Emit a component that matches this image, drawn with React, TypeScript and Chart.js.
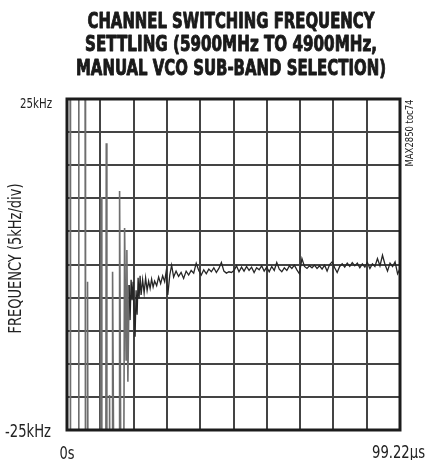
import { useEffect, useRef } from 'react';
import { Chart, registerables } from 'chart.js';

Chart.register(...registerables);

// ---------- text ----------
const titleLines = [
  'CHANNEL SWITCHING FREQUENCY',
  'SETTLING (5900MHz TO 4900MHz,',
  'MANUAL VCO SUB-BAND SELECTION)',
];
const yAxisTitle = 'FREQUENCY (5kHz/div)';
const noteLabel = 'MAX2850 toc74';

// ---------- axes ----------
const xTickValues = [0, 9.922, 19.844, 29.766, 39.688, 49.61, 59.532, 69.454, 79.376, 89.298, 99.22];
const xTickLabels = ['0s', '', '', '', '', '', '', '', '', '', '99.22µs'];
const yTickValues = [-25, -20, -15, -10, -5, 0, 5, 10, 15, 20, 25];
const yTickLabels = ['-25kHz', '', '', '', '', '', '', '', '', '', '25kHz'];

// ---------- data (time in µs, frequency error in kHz) ----------
const transientTimes = [
  0, 0.9, 1.04, 3.37, 3.52, 5.37, 5.52, 5.97, 6.12, 6.27,
  9.85, 10.15, 10.38, 11.55, 11.7, 11.88, 12.53, 12.68, 12.83, 13.43,
  13.58, 14.02, 15.52, 15.67, 16.11, 16.86, 17.16, 17.61, 17.84, 18.14,
  18.5, 18.8, 19.1, 19.4, 19.69, 19.99, 20.29, 20.59, 20.89, 21.19,
  21.48, 21.78, 22.08, 22.53, 22.98, 23.42, 23.87, 24.32, 24.77, 25.21,
  25.66, 26.11, 26.71, 27.3, 27.9, 28.5, 29.1, 29.54, 30.03, 30.62,
  31.18, 31.77,
];
const transientValues = [
  40, 40, -40, -40, 40, 40, -40, -40, -2.6, -40,
  -40, 10.2, -40, -40, 18.3, -40, -40, -19.7, -40, -40,
  -1.1, -40, -40, 11.1, -40, -40, 5.5, -14.4, 2.2, -17.7,
  -3.1, -8.4, -2.3, -5.4, -2.6, -6.9, -10.9, -3.9, -7.6, -2.0,
  -5.1, -1.7, -4.6, -2.3, -4.3, -2.0, -3.9, -2.5, -3.6, -2.2,
  -3.4, -2.5, -3.2, -1.9, -2.9, -1.7, -2.6, -1.1, -4.6, -1.6,
  -0.1, -1.9,
];
const settledStart = 32.5; // µs, first settled sample
const settledStep = 0.75; // µs between samples
const settledValues = [
  -1.0, -1.8, -1.2, -2.1, -1.0, -1.6, -0.9, -1.3, 0.2, -0.9,
  -1.6, -0.8, -1.4, -0.7, -1.1, -0.5, -1.2, -0.6, 0.3, -1.0,
  -1.3, -1.1, -1.2, -0.9, -0.2, -1.1, -0.4, -1.0, -0.3, -0.9,
  -0.4, -1.2, -0.5, -0.8, -0.2, -1.0, -0.4, -1.1, -0.3, -0.9,
  0.3, -0.7, -1.1, -0.5, -0.9, -0.2, -0.6, -0.1, -0.8, -1.4,
  0.9, -0.3, -0.6, -0.2, -0.5, -0.1, -0.6, -0.2, -0.7, -0.1,
  -1.0, 0.0, 0.4, -0.5, -1.2, -0.3, 0.1, -0.4, 0.2, -0.3,
  0.3, -0.2, 0.2, -0.5, 0.1, -0.4, 0.3, -0.6, 0.1, -0.3,
  0.9, -0.2, 1.4, 0.0, -1.0, 0.2, -0.3, 0.4, -1.4, -0.6,
];

const FONT_STACK = "'Liberation Sans Narrow', 'Arial Narrow', 'DejaVu Sans Condensed', sans-serif";

function drawFitted(
  ctx: CanvasRenderingContext2D,
  text: string,
  x: number,
  y: number,
  width: number,
  font: string,
  align: CanvasTextAlign,
  rotate = 0,
  stroke = 0,
) {
  ctx.save();
  ctx.translate(x, y);
  if (rotate) ctx.rotate(rotate);
  ctx.font = font;
  const m = ctx.measureText(text).width || 1;
  ctx.scale(width / m, 1);
  ctx.textAlign = align;
  ctx.textBaseline = 'alphabetic';
  ctx.fillText(text, 0, 0);
  if (stroke > 0) {
    ctx.lineWidth = stroke;
    ctx.lineJoin = 'round';
    ctx.strokeStyle = ctx.fillStyle as string;
    ctx.strokeText(text, 0, 0);
  }
  ctx.restore();
}

const decorPlugin = {
  id: 'decor',
  afterDraw(chart: any) {
    const { ctx, chartArea, scales } = chart;
    const { left, right, top, bottom } = chartArea;
    ctx.save();
    // frame
    ctx.strokeStyle = '#1c1c1c';
    ctx.lineWidth = 3;
    ctx.strokeRect(left, top, right - left, bottom - top);

    ctx.fillStyle = '#1a1a1a';
    // title
    const titleWidths = [287, 292, 310];
    const titleBase = [27.5, 51, 74.5];
    titleLines.forEach((t, i) => {
      drawFitted(ctx, t, 231, titleBase[i], titleWidths[i], `bold 21px ${FONT_STACK}`, 'center', 0, 0.9);
    });

    ctx.fillStyle = '#222';
    // y tick labels (first and last)
    const yTop = scales.y.getPixelForValue(yTickValues[yTickValues.length - 1]);
    const yBot = scales.y.getPixelForValue(yTickValues[0]);
    drawFitted(ctx, yTickLabels[yTickLabels.length - 1], left - 15, yTop + 9, 32, `14px ${FONT_STACK}`, 'right');
    drawFitted(ctx, yTickLabels[0], left - 16, yBot + 7, 46, `18px ${FONT_STACK}`, 'right');

    // x tick labels
    const x0 = scales.x.getPixelForValue(xTickValues[0]);
    const x1 = scales.x.getPixelForValue(xTickValues[xTickValues.length - 1]);
    drawFitted(ctx, xTickLabels[0], x0, bottom + 29, 15, `18px ${FONT_STACK}`, 'center');
    drawFitted(ctx, xTickLabels[xTickLabels.length - 1], x1 - 1.5, bottom + 28, 53, `18px ${FONT_STACK}`, 'center');

    // y axis title
    drawFitted(ctx, yAxisTitle, 21, (top + bottom) / 2 - 6, 150, `17px ${FONT_STACK}`, 'center', -Math.PI / 2);

    // note label
    drawFitted(ctx, noteLabel, right + 13, top + 34, 67, `11px ${FONT_STACK}`, 'center', -Math.PI / 2);
    ctx.restore();
  },
};

export default function App() {
  const ref = useRef<HTMLCanvasElement | null>(null);

  useEffect(() => {
    if (!ref.current) return;
    const points: { x: number; y: number }[] = [];
    transientTimes.forEach((t, i) => points.push({ x: t, y: transientValues[i] }));
    settledValues.forEach((v, i) => points.push({ x: settledStart + i * settledStep, y: v }));

    const steep = (c: any) => Math.abs(c.p0.parsed.y - c.p1.parsed.y) > 12;

    const chart = new Chart(ref.current, {
      type: 'line',
      data: {
        datasets: [
          {
            data: points,
            borderColor: '#262626',
            borderWidth: 1.3,
            pointRadius: 0,
            tension: 0,
            fill: false,
            segment: {
              borderColor: (c: any) => (steep(c) ? '#6e6e6e' : undefined),
              borderWidth: (c: any) => (steep(c) ? 1.6 : undefined),
            },
          } as any,
        ],
      },
      options: {
        animation: false,
        responsive: false,
        maintainAspectRatio: false,
        layout: { padding: { top: 99, left: 67, right: 26, bottom: 30 } },
        plugins: {
          legend: { display: false },
          title: { display: false },
          tooltip: { enabled: false },
        },
        scales: {
          x: {
            type: 'linear',
            min: xTickValues[0],
            max: xTickValues[xTickValues.length - 1],
            afterBuildTicks: (s: any) => {
              s.ticks = xTickValues.map((v) => ({ value: v }));
            },
            afterFit: (s: any) => {
              s.height = 0;
            },
            ticks: { display: false },
            grid: { color: '#444', lineWidth: 2, drawTicks: false },
            border: { display: false },
          },
          y: {
            type: 'linear',
            min: yTickValues[0],
            max: yTickValues[yTickValues.length - 1],
            afterBuildTicks: (s: any) => {
              s.ticks = yTickValues.map((v) => ({ value: v }));
            },
            afterFit: (s: any) => {
              s.width = 0;
            },
            ticks: { display: false },
            grid: { color: '#444', lineWidth: 2, drawTicks: false },
            border: { display: false },
          },
        },
      },
      plugins: [decorPlugin],
    });
    return () => chart.destroy();
  }, []);

  return (
    <div style={{ position: 'fixed', left: 0, top: 0, width: 426, height: 460, background: '#fff' }}>
      <canvas ref={ref} width={426} height={460} style={{ display: 'block' }} />
    </div>
  );
}
